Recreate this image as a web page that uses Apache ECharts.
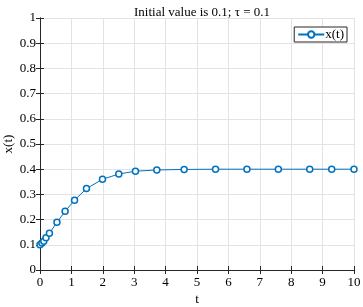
<!DOCTYPE html>
<html>
<head>
<meta charset="utf-8">
<script src="https://cdn.jsdelivr.net/npm/echarts@6/dist/echarts.min.js"></script>
<style>
  html, body { margin: 0; padding: 0; background: #fff; }
  #echart { width: 363px; height: 307px; }
</style>
</head>
<body>
<div id="echart"></div>
<script>
// data
var tValues = [0, 0.06, 0.12, 0.19, 0.30, 0.54, 0.80, 1.10, 1.48, 1.99, 2.51, 3.04, 3.72, 4.59, 5.59, 6.59, 7.59, 8.59, 9.29, 10];
var xValues = [0.1, 0.107, 0.114, 0.128, 0.146, 0.189, 0.233, 0.277, 0.323, 0.360, 0.381, 0.392, 0.397, 0.399, 0.4, 0.4, 0.4, 0.4, 0.4, 0.4];
var seriesName = 'x(t)';
var titleText = 'Initial value is 0.1; \u03c4 = 0.1';

var points = tValues.map(function (t, i) { return [t, xValues[i]]; });

var font = '"Liberation Serif", "Times New Roman", serif';
var axisColor = '#262626';
var blue = '#0072BD';

var myChart = echarts.init(document.getElementById('echart'));
var option = {
    animation: false,
    title: {
        text: titleText,
        left: 197,
        textAlign: 'center',
        top: 1,
        textStyle: { fontFamily: font, fontSize: 13, fontWeight: 'normal', color: '#000' }
    },
    legend: {
        data: [seriesName],
        right: 16,
        top: 27,
        padding: [1, 3, 1, 3],
        itemWidth: 26,
        itemHeight: 8,
        itemGap: 2,
        backgroundColor: '#fff',
        borderColor: axisColor,
        borderWidth: 1,
        borderRadius: 0,
        textStyle: { fontFamily: font, fontSize: 13, color: '#000', padding: [0, 0, 0, -4] }
    },
    grid: {
        left: 40,
        right: 9,
        top: 18,
        bottom: 37,
        containLabel: false,
        outerBoundsMode: 'none'
    },
    xAxis: [
        {
            type: 'value',
            min: 0,
            max: 10,
            interval: 1,
            name: 't',
            nameLocation: 'middle',
            nameGap: 23,
            nameMoveOverlap: false,
            nameTextStyle: { fontFamily: font, fontSize: 13, color: '#000' },
            axisLine: { lineStyle: { color: axisColor, width: 1 } },
            axisTick: { inside: true, length: 4, lineStyle: { color: axisColor } },
            axisLabel: { fontFamily: font, fontSize: 13, color: '#000', margin: 6 },
            splitLine: { show: true, lineStyle: { color: '#e3e3e3', width: 1 } }
        },
        {
            type: 'value',
            position: 'top',
            min: 0,
            max: 10,
            interval: 1,
            axisLine: { show: true, lineStyle: { color: axisColor, width: 1 } },
            axisTick: { show: true, inside: true, length: 4, lineStyle: { color: axisColor } },
            axisLabel: { show: false },
            splitLine: { show: false }
        }
    ],
    yAxis: [
        {
            type: 'value',
            min: 0,
            max: 1,
            interval: 0.1,
            name: 'x(t)',
            nameLocation: 'middle',
            nameGap: 25,
            nameMoveOverlap: false,
            nameTextStyle: { fontFamily: font, fontSize: 13, color: '#000' },
            axisLine: { show: true, lineStyle: { color: axisColor, width: 1 } },
            axisTick: { show: true, inside: true, length: 4, lineStyle: { color: axisColor } },
            axisLabel: { fontFamily: font, fontSize: 13, color: '#000', margin: 4 },
            splitLine: { show: true, lineStyle: { color: '#e3e3e3', width: 1 } }
        },
        {
            type: 'value',
            position: 'right',
            min: 0,
            max: 1,
            interval: 0.1,
            axisLine: { show: true, lineStyle: { color: axisColor, width: 1 } },
            axisTick: { show: true, inside: true, length: 4, lineStyle: { color: axisColor } },
            axisLabel: { show: false },
            splitLine: { show: false }
        }
    ],
    series: [
        {
            name: seriesName,
            type: 'line',
            data: points,
            color: blue,
            lineStyle: { color: blue, width: 1, type: 'solid' },
            symbol: 'circle',
            symbolSize: 6,
            showSymbol: true,
            showAllSymbol: true,
            itemStyle: { color: '#fff', borderColor: blue, borderWidth: 1.5 }
        }
    ]
};
myChart.setOption(option);
</script>
</body>
</html>
